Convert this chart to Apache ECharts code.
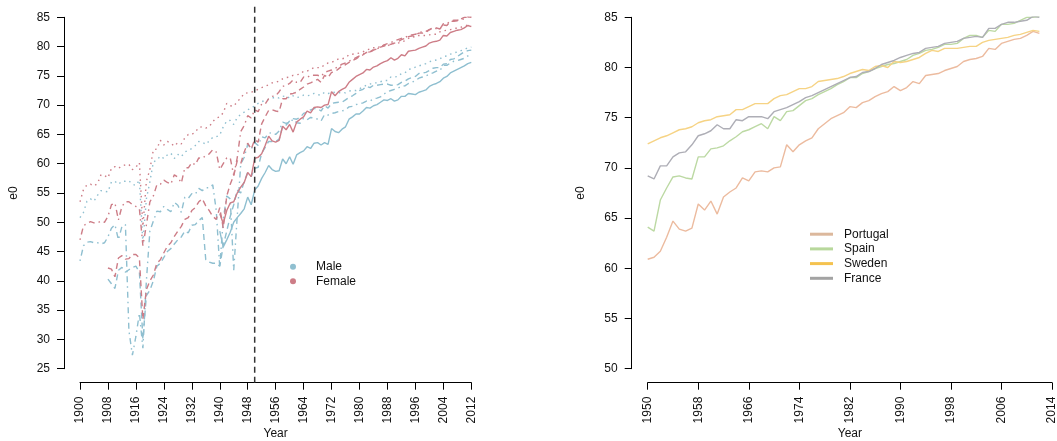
<!DOCTYPE html>
<html>
<head>
<meta charset="utf-8">
<script src="https://cdn.jsdelivr.net/npm/echarts@6/dist/echarts.min.js"></script>
<style>
html, body { margin: 0; padding: 0; background: #fff; }
#container { width: 1057px; height: 441px; }
</style>
</head>
<body>
<div id="container"></div>
<script>
// life expectancy at birth (e0)
var swedenStart = 1900;
var swedenFemale = [
    53.5, 55.6, 56.4, 56.5, 56.2, 56.6, 58.1, 58.0, 57.6, 59.2,
    59.5, 59.2, 59.6, 59.8, 59.9, 59.0, 59.4, 60.2, 49.3, 57.0,
    59.0, 62.4, 62.5, 64.0, 63.2, 63.8, 63.5, 63.0, 63.6, 63.4,
    64.4, 65.0, 65.0, 65.4, 66.2, 66.3, 66.1, 66.3, 67.2, 67.8,
    68.0, 68.7, 70.3, 69.9, 69.8, 70.6, 71.2, 72.0, 72.1, 72.2,
    72.4, 72.7, 73.0, 73.2, 73.5, 73.8, 73.9, 74.1, 74.5, 74.7,
    74.8, 75.1, 75.2, 75.3, 75.8, 75.8, 76.1, 76.4, 76.4, 76.4,
    76.9, 77.2, 77.3, 77.6, 77.9, 77.9, 78.1, 78.6, 78.7, 78.8,
    78.9, 79.1, 79.4, 79.6, 79.8, 79.7, 80.1, 80.2, 80.0, 80.6,
    80.5, 80.6, 80.8, 81.0, 81.4, 81.7, 81.6, 81.9, 81.9, 81.9,
    82.0, 82.1, 82.1, 82.5, 82.7, 82.8, 82.9, 83.0, 83.2, 83.3,
    83.5, 83.7, 83.6
];
var swedenMale = [
    50.8, 51.7, 53.6, 54.0, 53.6, 54.6, 55.4, 55.3, 55.2, 56.9,
    57.0, 56.5, 57.0, 57.0, 57.1, 56.5, 56.3, 57.2, 46.5, 54.0,
    56.9, 60.3, 60.6, 61.3, 60.9, 61.5, 61.8, 60.9, 61.6, 61.2,
    62.0, 62.3, 62.6, 63.1, 63.8, 63.7, 63.3, 63.9, 64.5, 64.6,
    64.9, 66.3, 67.3, 67.4, 66.7, 67.9, 68.4, 68.8, 69.2, 69.5,
    69.9, 70.3, 70.6, 70.8, 71.0, 71.2, 71.4, 71.2, 71.5, 71.6,
    71.2, 71.6, 71.3, 71.4, 71.7, 71.6, 71.7, 72.0, 71.8, 71.7,
    72.2, 72.0, 72.1, 72.2, 72.1, 72.2, 72.1, 72.4, 72.5, 72.5,
    72.8, 73.1, 73.4, 73.6, 73.8, 73.8, 74.0, 74.2, 74.2, 74.8,
    74.8, 74.9, 75.4, 75.5, 76.1, 76.2, 76.5, 76.7, 76.9, 77.1,
    77.4, 77.6, 77.7, 77.9, 78.3, 78.4, 78.7, 78.9, 79.1, 79.3,
    79.5, 79.8, 79.9
];
var franceStart = 1900;
var franceFemale = [
    47.0, 49.4, 49.8, 50.1, 49.9, 49.9, 50.2, 50.0, 51.0, 53.0,
    53.3, 50.4, 52.7, 53.5, 53.5, 53.0, 52.7, 52.3, 46.0, 49.5,
    53.5, 54.5, 56.4, 56.5, 57.2, 56.8, 56.5, 58.1, 57.7, 56.7,
    59.3, 59.3, 60.2, 59.8, 61.0, 60.9, 61.4, 61.7, 62.4, 62.0,
    59.0, 60.0, 61.0, 61.0, 58.0, 61.0, 65.5, 66.5, 68.2, 67.8,
    69.2, 68.9, 70.2, 70.2, 71.1, 71.5, 71.6, 72.3, 73.2, 73.4,
    73.7, 74.3, 73.9, 73.9, 74.8, 74.7, 75.1, 75.1, 75.1, 74.9,
    75.6, 75.8, 76.0, 76.3, 76.6, 77.0, 77.2, 77.5, 77.8, 78.1,
    78.4, 78.7, 79.0, 79.1, 79.5, 79.6, 79.9, 80.3, 80.5, 80.7,
    81.0, 81.2, 81.4, 81.5, 81.9, 82.0, 82.1, 82.4, 82.5, 82.6,
    82.9, 83.0, 83.1, 83.0, 83.9, 83.9, 84.3, 84.5, 84.5, 84.6,
    84.7, 85.1, 85.0
];
var franceMale = [
    43.4, 46.0, 46.6, 46.7, 46.5, 46.5, 46.3, 46.5, 47.5, 49.0,
    49.6, 47.0, 49.3, 49.6, 31.5, 27.3, 30.5, 34.5, 28.5, 40.0,
    48.5, 50.2, 51.9, 51.8, 52.7, 52.2, 51.8, 53.4, 52.9, 51.7,
    54.3, 54.1, 54.9, 54.8, 55.8, 55.4, 55.9, 55.9, 56.4, 52.0,
    42.3, 50.5, 54.5, 54.0, 41.8, 51.0, 59.9, 61.1, 63.3, 62.5,
    63.6, 63.1, 64.6, 64.4, 65.2, 65.3, 65.0, 65.6, 67.1, 66.9,
    67.0, 67.6, 67.0, 66.9, 67.8, 67.5, 67.9, 67.8, 67.6, 67.3,
    68.4, 68.3, 68.6, 68.7, 68.9, 69.0, 69.2, 69.7, 69.8, 70.1,
    70.2, 70.4, 70.7, 70.7, 71.1, 71.2, 71.4, 71.9, 72.3, 72.5,
    72.7, 72.9, 73.2, 73.3, 73.7, 73.9, 74.2, 74.6, 74.8, 75.0,
    75.3, 75.5, 75.8, 75.9, 76.8, 76.8, 77.2, 77.5, 77.6, 77.8,
    78.0, 78.4, 78.5
];
var spainStart = 1908;
var spainFemale = [
    42.2, 42.0,
    40.7, 43.9, 44.3, 43.7, 43.8, 44.5, 44.5, 43.9, 33.4, 38.5,
    40.0, 41.0, 43.0, 43.6, 44.8, 45.9, 46.5, 47.6, 48.5, 49.3,
    50.5, 50.8, 52.0, 52.5, 53.5, 54.0, 52.8, 52.0, 51.0, 50.5,
    52.5, 49.0, 54.5, 56.5, 58.0, 60.5, 60.0, 62.0, 63.5, 62.5,
    64.1, 63.7, 66.8, 68.0, 69.1, 69.2, 69.0, 68.9, 71.1, 71.1,
    71.9, 72.0, 72.2, 72.7, 73.1, 73.6, 73.8, 74.1, 74.4, 73.9,
    75.1, 74.7, 75.6, 75.7, 76.2, 76.7, 76.9, 77.3, 77.6, 77.9,
    78.3, 78.6, 79.0, 79.0, 79.4, 79.6, 79.9, 80.1, 80.3, 80.4,
    80.6, 80.8, 81.2, 81.4, 81.7, 81.8, 82.0, 82.3, 82.3, 82.4,
    82.9, 83.2, 83.2, 83.0, 83.7, 83.6, 84.3, 84.3, 84.4, 84.7,
    85.0, 85.0, 85.1
];
var spainMale = [
    40.3, 39.5,
    38.7, 41.8, 42.3, 41.5, 41.9, 42.3, 42.5, 41.5, 30.0, 37.5,
    38.4, 40.0, 42.5, 43.0, 44.0, 45.0, 45.5, 46.3, 47.0, 47.5,
    48.5, 48.2, 49.5, 49.6, 50.3, 50.8, 43.6, 43.2, 43.0, 43.0,
    42.5, 46.0, 48.5, 51.0, 53.0, 55.5, 55.0, 57.0, 58.5, 57.8,
    59.2, 59.4, 61.8, 62.8, 63.8, 63.8, 63.8, 64.2, 66.4, 66.6,
    67.3, 67.7, 67.6, 67.9, 68.6, 68.8, 69.2, 69.4, 69.4, 69.0,
    69.9, 69.5, 70.3, 70.4, 70.5, 70.5, 70.9, 71.3, 71.6, 72.0,
    72.5, 72.7, 73.2, 73.0, 73.4, 73.4, 73.5, 73.6, 73.6, 73.4,
    73.4, 73.5, 73.9, 74.1, 74.5, 74.7, 74.9, 75.4, 75.5, 75.6,
    75.9, 76.3, 76.4, 76.4, 77.0, 77.1, 77.8, 77.9, 78.3, 78.7,
    79.1, 79.3, 79.4
];
var portugalStart = 1940;
var portugalFemale = [
    51.5, 49.8, 52.0, 53.3, 53.5, 55.0, 56.0, 56.8, 58.5, 57.8,
    60.9, 61.1, 61.7, 63.1, 64.7, 63.9, 63.7, 64.0, 66.4, 65.8,
    66.7, 65.4, 67.1, 67.6, 68.0, 69.0, 68.7, 69.6, 69.7, 69.6,
    70.0, 70.1, 72.3, 71.6, 72.3, 72.7, 73.0, 73.9, 74.4, 74.9,
    75.2, 75.5, 76.1, 76.0, 76.5, 76.7, 77.1, 77.4, 77.6, 78.1,
    77.7, 78.0, 78.6, 78.4, 79.2, 79.3, 79.4, 79.7, 79.9, 80.1,
    80.6, 80.8, 80.9, 81.1, 81.9, 81.8, 82.4, 82.6, 82.8, 82.9,
    83.2, 83.6, 83.4
];
var portugalMale = [
    48.5, 45.8, 47.0, 48.3, 50.0, 50.8, 51.5, 52.3, 54.3, 53.0,
    55.5, 56.2, 57.5, 58.5, 59.7, 59.0, 58.7, 58.8, 60.8, 60.0,
    61.2, 59.9, 61.5, 61.9, 62.2, 62.9, 62.6, 63.5, 63.6, 63.2,
    63.6, 63.3, 66.0, 65.5, 65.3, 65.9, 66.3, 67.6, 68.0, 68.5,
    68.5, 69.0, 69.6, 69.5, 69.9, 70.1, 70.5, 70.9, 70.8, 71.1,
    70.7, 70.9, 71.5, 71.5, 72.0, 71.9, 71.8, 72.2, 72.4, 72.6,
    73.2, 73.5, 73.7, 74.0, 74.6, 74.9, 75.5, 75.8, 76.1, 76.4,
    76.7, 77.1, 77.3
];

var sexNames = ['Male', 'Female'];
var countryNames = ['Portugal', 'Spain', 'Sweden', 'France'];
var cutYear = 1950;

var FONT = '"Liberation Sans", Arial, Helvetica, sans-serif';
var maleCol = '#8fbfd0';
var femaleCol = '#cd7d87';
var countryLine = ['#ecbb9f', '#bcd9a3', '#f6d384', '#aeaeb6'];
var countryKey = ['#dcb89c', '#b8d89c', '#f4c24f', '#a3a3a3'];

function toPairs(start, vals, from) {
    var out = [];
    for (var i = 0; i < vals.length; i++) {
        var yr = start + i;
        if (from == null || yr >= from) out.push([yr, vals[i]]);
    }
    return out;
}

function plain(v) { return String(v); }

function axisBase(extra) {
    var a = {
        type: 'value',
        axisLine: {show: true, onZero: false, lineStyle: {color: '#000', width: 1}},
        axisTick: {show: true, length: 7, lineStyle: {color: '#000', width: 1}},
        axisLabel: {fontSize: 12, color: '#111', fontFamily: FONT, margin: 14, formatter: plain},
        splitLine: {show: false},
        nameLocation: 'middle',
        nameMoveOverlap: false,
        nameTextStyle: {fontSize: 12, color: '#111', fontFamily: FONT}
    };
    for (var k in extra) a[k] = extra[k];
    return a;
}

var dashed = [6, 4];
var dotted = [1.5, 4];
var dotdash = [1.5, 4, 6, 4];

function lineSeries(name, data, color, type, xi) {
    return {
        name: name,
        type: 'line',
        xAxisIndex: xi,
        yAxisIndex: xi,
        data: data,
        showSymbol: false,
        symbol: 'none',
        silent: true,
        itemStyle: {color: color},
        lineStyle: {color: color, width: 1.4, type: type}
    };
}

var yMinL = 25, yMaxL = 85;
var ext = 0.04 * (yMaxL - yMinL);

var series = [
    lineSeries('Male', toPairs(swedenStart, swedenMale), maleCol, dotted, 0),
    lineSeries('Female', toPairs(swedenStart, swedenFemale), femaleCol, dotted, 0),
    lineSeries('Male', toPairs(franceStart, franceMale), maleCol, dotdash, 0),
    lineSeries('Female', toPairs(franceStart, franceFemale), femaleCol, dotdash, 0),
    lineSeries('Male', toPairs(spainStart, spainMale), maleCol, dashed, 0),
    lineSeries('Female', toPairs(spainStart, spainFemale), femaleCol, dashed, 0),
    lineSeries('Male', toPairs(portugalStart, portugalMale), maleCol, 'solid', 0),
    lineSeries('Female', toPairs(portugalStart, portugalFemale), femaleCol, 'solid', 0),
    {
        name: 'cut',
        type: 'line',
        xAxisIndex: 0,
        yAxisIndex: 0,
        clip: false,
        silent: true,
        showSymbol: false,
        symbol: 'none',
        data: [[cutYear, yMinL - ext], [cutYear, yMaxL + ext]],
        lineStyle: {color: '#333', width: 1.5, type: [6, 4]}
    }
];

// right panel: females since 1950
var femaleByCountry = [
    [portugalStart, portugalFemale],
    [spainStart, spainFemale],
    [swedenStart, swedenFemale],
    [franceStart, franceFemale]
];
for (var c = 0; c < countryNames.length; c++) {
    series.push(lineSeries(countryNames[c],
        toPairs(femaleByCountry[c][0], femaleByCountry[c][1], cutYear),
        countryLine[c], 'solid', 1));
}

var xLabel = {fontSize: 12, color: '#111', fontFamily: FONT, margin: 14, rotate: 90, formatter: plain};

var option = {
    animation: false,
    backgroundColor: '#fff',
    textStyle: {fontFamily: FONT},
    grid: [
        {left: 80, top: 17.3, width: 391.3, height: 351.4, outerBoundsMode: 'none', containLabel: false},
        {left: 647.7, top: 17.3, width: 404.3, height: 351.4, outerBoundsMode: 'none', containLabel: false}
    ],
    xAxis: [
        axisBase({gridIndex: 0, min: 1900, max: 2012, interval: 8, offset: 14,
            name: 'Year', nameGap: 45, axisLabel: xLabel}),
        axisBase({gridIndex: 1, min: 1950, max: 2014, interval: 8, offset: 14,
            name: 'Year', nameGap: 45, axisLabel: xLabel})
    ],
    yAxis: [
        axisBase({gridIndex: 0, min: yMinL, max: yMaxL, interval: 5, offset: 16,
            name: 'e0', nameGap: 44, nameRotate: 90}),
        axisBase({gridIndex: 1, min: 50, max: 85, interval: 5, offset: 16,
            name: 'e0', nameGap: 45, nameRotate: 90})
    ],
    legend: [
        {
            orient: 'vertical',
            left: 290,
            top: 259.7,
            padding: 0,
            icon: 'circle',
            itemWidth: 6,
            itemHeight: 6,
            itemGap: 0.5,
            selectedMode: false,
            textStyle: {fontSize: 12, color: '#111', fontFamily: FONT, lineHeight: 14, padding: [0, 0, 0, 15]},
            data: [
                {name: sexNames[0], itemStyle: {color: maleCol}},
                {name: sexNames[1], itemStyle: {color: femaleCol}}
            ]
        },
        {
            orient: 'vertical',
            left: 810,
            top: 227.2,
            padding: 0,
            icon: 'rect',
            itemWidth: 23,
            itemHeight: 3,
            itemGap: 0.7,
            selectedMode: false,
            textStyle: {fontSize: 12, color: '#111', fontFamily: FONT, lineHeight: 14, padding: [0, 0, 0, 6]},
            data: countryNames.map(function (n, i) {
                return {name: n, itemStyle: {color: countryKey[i]}};
            })
        }
    ],
    series: series
};

var dom = document.getElementById("container");
var myChart = echarts.init(dom);
myChart.setOption(option, true);
</script>
</body>
</html>
